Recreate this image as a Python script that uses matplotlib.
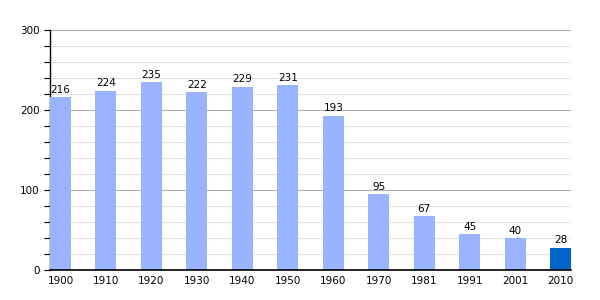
import numpy as np
import matplotlib.pyplot as plt
from matplotlib.ticker import MultipleLocator

years = ["1900", "1910", "1920", "1930", "1940", "1950", "1960", "1970", "1981", "1991", "2001", "2010"]
population = [216, 224, 235, 222, 229, 231, 193, 95, 67, 45, 40, 28]

colors = ["#99b3ff"] * (len(years) - 1) + ["#0066cc"]

fig = plt.figure(figsize=(6, 3), dpi=100)
ax = fig.add_axes([0.0833, 0.1, 0.8687, 0.8])

x = np.arange(len(years))
w = 0.46
ax.bar(x, population, width=w, color=colors, zorder=3)
for xi, v in zip(x, population):
    ax.text(xi, v + 3, str(v), ha="center", va="bottom", fontsize=7.5, zorder=4)

ax.set_xlim(-w / 2, len(years) - 1 + w / 2)
ax.set_ylim(0, 300)
ax.set_xticks(x)
ax.set_xticklabels(years, fontsize=7.5)
ax.yaxis.set_major_locator(MultipleLocator(100))
ax.yaxis.set_minor_locator(MultipleLocator(20))
ax.tick_params(axis="y", which="both", length=4, width=0.8, labelsize=7.5, direction="out")
ax.tick_params(axis="x", length=0, labelsize=7.5, pad=4)

ax.grid(axis="y", which="major", color="#b0b0b0", linewidth=0.8, zorder=1)
ax.grid(axis="y", which="minor", color="#e2e2e2", linewidth=0.8, zorder=1)
ax.set_axisbelow(True)

for s in ["top", "right"]:
    ax.spines[s].set_visible(False)
ax.spines["left"].set_linewidth(1.0)
ax.spines["bottom"].set_linewidth(1.2)
ax.spines["bottom"].set_zorder(5)

plt.savefig("out.png", dpi=100)
